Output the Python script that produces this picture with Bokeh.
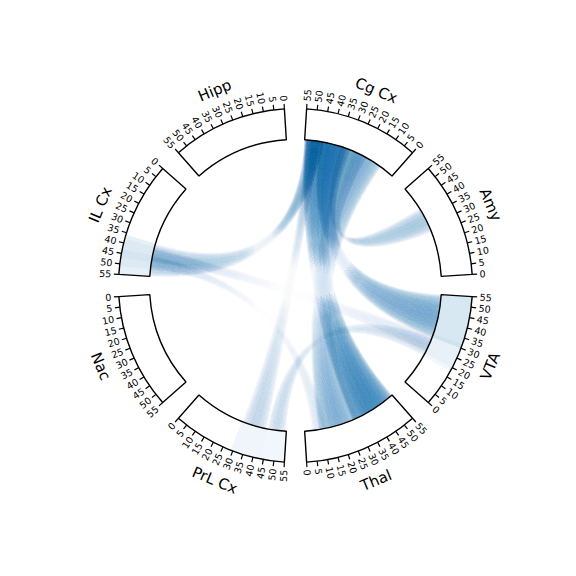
import numpy as np
from bokeh.plotting import figure
from bokeh.models import ColumnDataSource, Range1d
from bokeh.embed import file_html
from bokeh.resources import INLINE
from bokeh.core.properties import value

# ---------------- data ----------------
regions = ["Amy", "Cg Cx", "Hipp", "IL Cx", "Nac", "PrL Cx", "Thal", "VTA"]  # counter-clockwise from 0 deg
region_max = 55
tick_values = list(range(0, 56, 5))

chord_a = ["Cg Cx", "Cg Cx", "Cg Cx", "Cg Cx", "Cg Cx", "Cg Cx", "IL Cx", "PrL Cx", "Thal"]
chord_a_start = [30, 8, 28, 18, 44, 46, 38, 44, 4]
chord_a_end = [55, 32, 46, 34, 55, 54, 47, 55, 13]
chord_b = ["Thal", "Thal", "VTA", "Amy", "IL Cx", "PrL Cx", "VTA", "VTA", "IL Cx"]
chord_b_start = [28, 8, 30, 26, 36, 29, 20, 18, 43]
chord_b_end = [55, 32, 55, 41, 55, 44, 32, 30, 51]
chord_weight = [0.8, 0.5, 0.58, 0.32, 0.36, 0.24, 0.14, 0.2, 0.14]

# ---------------- geometry / style ----------------
GAP = 7.2
SPAN = 45.0 - GAP
R_IN, R_OUT = 146.0, 177.0
TICK = 5.0
CHORD_COLOR = "#1f77b4"
BOX_SHADED = ["IL Cx", "PrL Cx", "VTA"]
LW = 1.6
NPTS = 40
MID = 0.07
END_TAUS = [0.07, 0.14, 0.22, 0.31, 0.41]
PHI = 0.6180339887


def ang(region, v):
    k = regions.index(region)
    return np.radians(45.0 * k + GAP / 2 + v / region_max * SPAN)


def pt(region, v, r=R_IN):
    a = ang(region, v)
    return np.array([r * np.cos(a), r * np.sin(a)])


def curve(P0, P2, ts, te):
    t = np.linspace(ts, te, NPTS)[:, None]
    return (1 - t) ** 2 * P0 + t ** 2 * P2   # quadratic Bezier, control point at centre


p = figure(width=576, height=576, output_backend="svg", toolbar_location=None,
           x_axis_location=None, y_axis_location=None, min_border=0,
           x_range=Range1d(-295, 281), y_range=Range1d(-291, 285))
p.grid.visible = False
p.outline_line_color = None
p.background_fill_color = "white"

# ---------------- chords: fans of curves, denser near the ring ----------------
mx, my, ma = [], [], []
wx, ws, we, wa = [], [], [], []
k_line = 0
for A, a0, a1, B, b0, b1, w in zip(chord_a, chord_a_start, chord_a_end,
                                    chord_b, chord_b_start, chord_b_end, chord_weight):
    width_px = max(a1 - a0, b1 - b0) / region_max * np.radians(SPAN) * R_IN
    n = max(12, int(np.ceil(width_px / 0.9)))
    ov = n * LW / width_px
    a_mid = 1 - (1 - MID * w) ** (1.0 / ov)
    a_end = 1 - ((1 - w) / (1 - MID * w)) ** (1.0 / (len(END_TAUS) * ov))
    for u in (np.arange(n) + 0.5) / n:
        k_line += 1
        cross = np.sin(np.pi * u) ** 0.6
        P0 = pt(A, a0 + u * (a1 - a0))
        P2 = pt(B, b1 - u * (b1 - b0))
        c = curve(P0, P2, 0, 1)
        mx.append(list(c[:, 0])); my.append(list(c[:, 1])); ma.append(a_mid * cross)
        for j, tau in enumerate(END_TAUS):
            d = 0.08 * (((k_line + j) * PHI) % 1.0 - 0.5)
            tt = min(max(tau + d, 0.03), 0.5)
            for ts, te in ((0.0, tt), (1 - tt, 1.0)):
                c = curve(P0, P2, ts, te)
                mx.append(list(c[:, 0])); my.append(list(c[:, 1])); ma.append(a_end * cross)
    for reg, v0, v1 in ((A, a0, a1), (B, b0, b1)):
        if reg in BOX_SHADED:
            wx.append(0); ws.append(ang(reg, v0)); we.append(ang(reg, v1)); wa.append(0.3 * w)

p.multi_line(xs="xs", ys="ys", line_color=CHORD_COLOR, line_alpha="a", line_width=LW,
             line_cap="butt", source=ColumnDataSource(dict(xs=mx, ys=my, a=ma)))
p.annular_wedge(x="x", y="x", inner_radius=R_IN, outer_radius=R_OUT, start_angle="s",
                end_angle="e", fill_color=CHORD_COLOR, fill_alpha="a", line_color=None,
                source=ColumnDataSource(dict(x=wx, s=ws, e=we, a=wa)))

# ---------------- segments ----------------
seg_start = [np.radians(45.0 * k + GAP / 2) for k in range(len(regions))]
seg_end = [np.radians(45.0 * k + GAP / 2 + SPAN) for k in range(len(regions))]
p.annular_wedge(x=0, y=0, inner_radius=R_IN, outer_radius=R_OUT,
                start_angle=seg_start, end_angle=seg_end,
                fill_alpha=0, line_color="black", line_width=1.4)

# ---------------- ticks ----------------
tx0, ty0, tx1, ty1 = [], [], [], []
lx, ly, lt, la_, lal = [], [], [], [], []
for reg in regions:
    for v in tick_values:
        a = ang(reg, v)
        c, s = np.cos(a), np.sin(a)
        tx0.append(R_OUT * c); ty0.append(R_OUT * s)
        tx1.append((R_OUT + TICK) * c); ty1.append((R_OUT + TICK) * s)
        lx.append((R_OUT + TICK + 2.5) * c); ly.append((R_OUT + TICK + 2.5) * s)
        lt.append(str(v))
        if c >= 0:
            la_.append(a); lal.append("left")
        else:
            la_.append(a + np.pi); lal.append("right")

p.segment(x0=tx0, y0=ty0, x1=tx1, y1=ty1, line_color="black", line_width=1.2)
p.text(x="x", y="y", text="t", angle="a", text_align="al", text_baseline="middle",
       text_font=value("DejaVu Sans"), text_font_size="9.5px", text_color="black",
       source=ColumnDataSource(dict(x=lx, y=ly, t=lt, a=la_, al=lal)))

# ---------------- region names ----------------
nx, ny, na = [], [], []
for k, reg in enumerate(regions):
    mid = 45.0 * k + 22.5
    a = np.radians(mid)
    nx.append(211 * np.cos(a)); ny.append(211 * np.sin(a))
    rot = mid - 90
    while rot > 90:
        rot -= 180
    while rot <= -90:
        rot += 180
    na.append(np.radians(rot))
p.text(x=nx, y=ny, text=regions, angle=na, text_align="center", text_baseline="middle",
       text_font=value("DejaVu Sans"), text_font_size="15px", text_color="black")

open("out.html", "w").write(file_html(p, INLINE))
